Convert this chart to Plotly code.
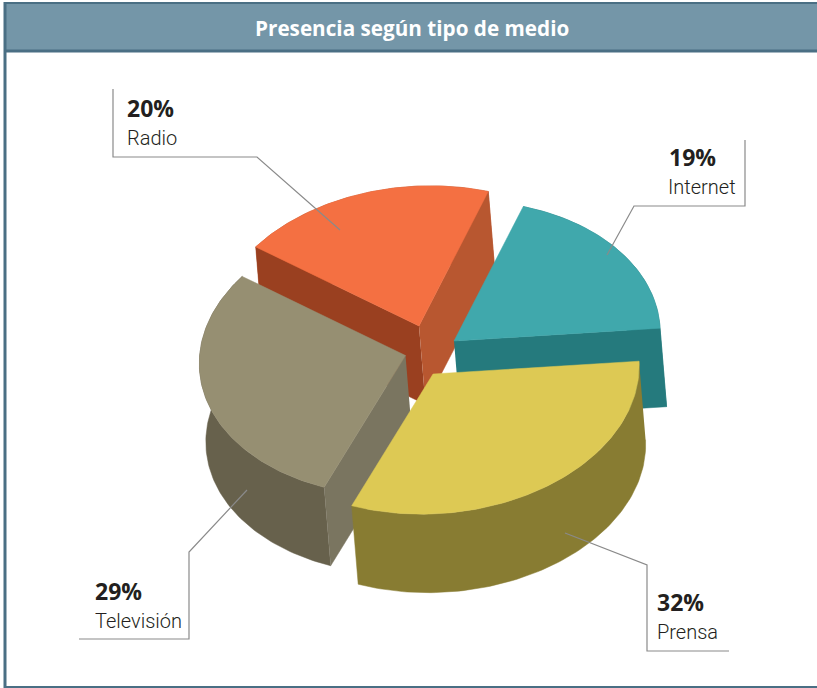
import numpy as np
import plotly.graph_objects as go

categories = ["Internet", "Prensa", "Televisión", "Radio"]
values = [19, 32, 29, 20]
title_text = "Presencia según tipo de medio"

top_colors = ["#40A8AC", "#DDC954", "#968F72", "#F47042"]
wall_colors = ["#257A7D", "#887C32", "#67614C", "#B85730"]
radial_colors = ["#257A7D", "#887C32", "#7A7560", "#9A4020"]
centers = [(454, 341), (433, 374), (405.5, 355.5), (419, 326)]
depth = (6.5, 78.5)
START = 76.5
A, B, C, D = 205.0, 22.0, -7.0, 140.0

fig = go.Figure()


def poly(xs, ys, color):
    fig.add_trace(go.Scatter(x=list(xs), y=list(ys), mode="lines", fill="toself", fillcolor=color,
                             line=dict(color=color, width=0.5), hoverinfo="skip", showlegend=False))


def project(theta, center):
    t = np.radians(theta)
    x = center[0] + (A * np.cos(t) + B * np.sin(t))
    y = center[1] - (C * np.cos(t) + D * np.sin(t))
    return x, y


total = sum(values)
bounds = START - np.cumsum([0] + values) * 360.0 / total
geom = {}
for i, name in enumerate(categories):
    th = np.linspace(bounds[i], bounds[i + 1], 90)
    geom[name] = project(th, centers[i])

for i in [3, 0, 2, 1]:
    name = categories[i]
    ax, ay = geom[name]
    cx, cy = centers[i]
    dx, dy = depth
    poly(np.r_[ax, (ax + dx)[::-1]], np.r_[ay, (ay + dy)[::-1]], wall_colors[i])
    if name == "Radio":
        poly([cx, ax[0], ax[0] + dx, cx + dx], [cy, ay[0], ay[0] + dy, cy + dy], radial_colors[i])
        poly([cx, ax[-1], ax[-1] + dx, cx + dx], [cy, ay[-1], ay[-1] + dy, cy + dy], wall_colors[i])
    elif name == "Televisión":
        poly([cx, ax[0], ax[0] + dx, cx + dx], [cy, ay[0], ay[0] + dy, cy + dy], radial_colors[i])
    elif name == "Internet":
        poly([cx, ax[-1], ax[-1] + dx, cx + dx], [cy, ay[-1], ay[-1] + dy, cy + dy], radial_colors[i])
    poly(np.r_[cx, ax, cx], np.r_[cy, ay, cy], top_colors[i])

leaders = {
    "Radio": ([113, 113, 257, 340], [89, 157, 157, 230]),
    "Internet": ([745, 745, 634, 607], [140, 206, 206, 255]),
    "Prensa": ([729, 647, 647, 565], [651, 651, 565, 533]),
    "Televisión": ([79, 189, 189, 247], [639, 639, 552, 490]),
}
label_pos = {
    "Radio": (125, 108, 138, "left"),
    "Internet": (738, 157, 187, "right"),
    "Prensa": (655, 602, 632, "left"),
    "Televisión": (93, 591, 621, "left"),
}
for i, name in enumerate(categories):
    lx, ly = leaders[name]
    fig.add_trace(go.Scatter(x=lx, y=ly, mode="lines", line=dict(color="#8A8A8A", width=1.2),
                             hoverinfo="skip", showlegend=False))
    x, y1, y2, al = label_pos[name]
    pct_x = x if al == "left" else 667
    fig.add_annotation(x=pct_x, y=y1, text=f"<b>{values[i]}%</b>", showarrow=False, xanchor="left",
                       yanchor="middle", font=dict(family="Open Sans", size=23, color="#231F20"))
    fig.add_annotation(x=x, y=y2, text=name, showarrow=False, xanchor=al, yanchor="middle",
                       font=dict(family="Roboto", size=20, weight=300, color="#231F20"))

fig.add_annotation(x=412, y=28, text=f"<b>{title_text}</b>", showarrow=False, xanchor="center", yanchor="middle",
                   font=dict(family="Open Sans", size=20.7, color="white"))

shapes = [
    dict(type="rect", x0=4, x1=817, y0=2, y1=51, fillcolor="#7496A8", line=dict(width=0), layer="below"),
    dict(type="line", x0=4, x1=817, y0=3, y1=3, line=dict(color="#4A6F84", width=2), layer="below"),
    dict(type="line", x0=4, x1=817, y0=51, y1=51, line=dict(color="#4A6F84", width=3), layer="below"),
    dict(type="line", x0=5, x1=5, y0=2, y1=688, line=dict(color="#4A6F84", width=3), layer="below"),
    dict(type="line", x0=4, x1=817, y0=687, y1=687, line=dict(color="#4A6F84", width=2), layer="below"),
]

fig.update_layout(
    width=817, height=688, margin=dict(l=0, r=0, t=0, b=0), paper_bgcolor="white", plot_bgcolor="white",
    xaxis=dict(range=[0, 817], visible=False, fixedrange=True),
    yaxis=dict(range=[688, 0], visible=False, fixedrange=True),
    shapes=shapes, showlegend=False,
)
fig.write_html("out.html", config={"displayModeBar": False},
               post_script="document.body.style.margin='0';document.documentElement.style.overflow='hidden';")
